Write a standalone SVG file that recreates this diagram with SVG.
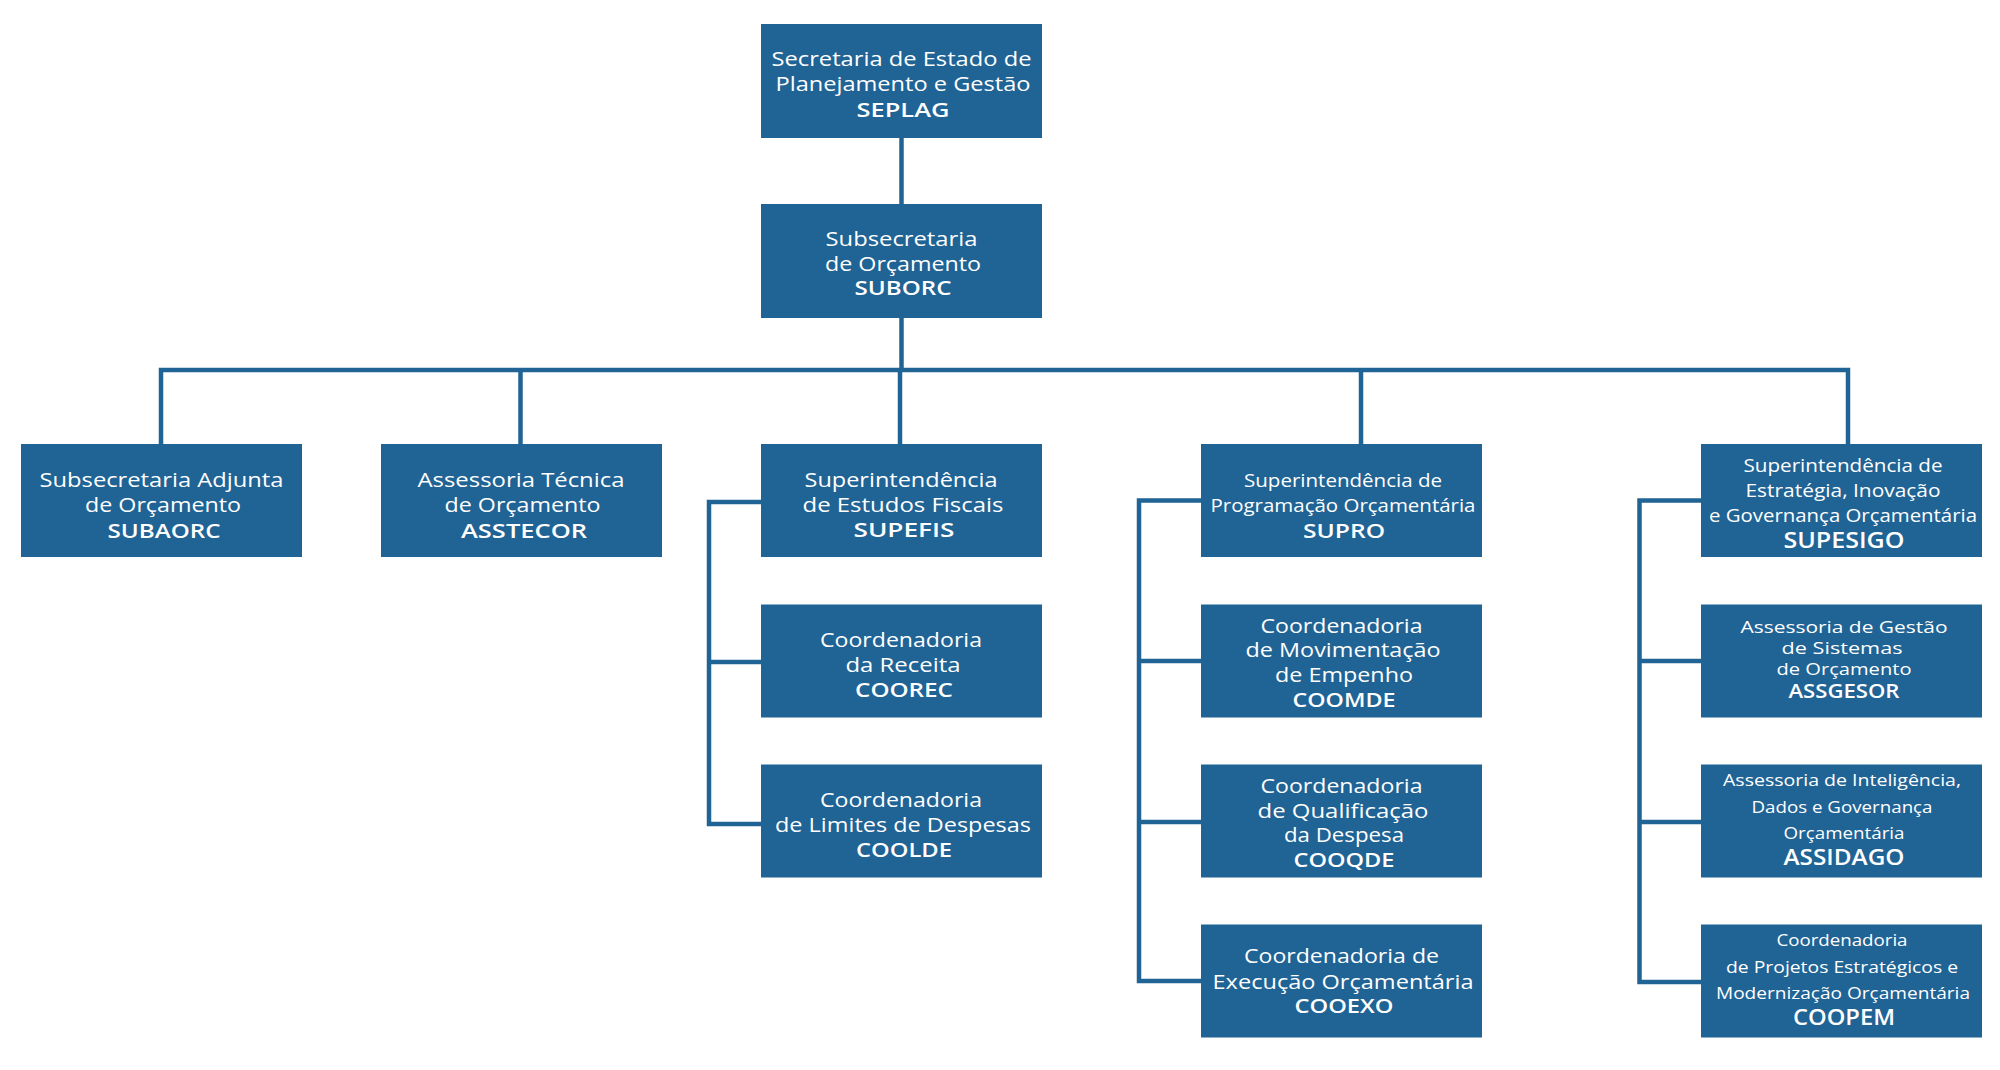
<svg xmlns="http://www.w3.org/2000/svg" width="2000" height="1070" viewBox="0 0 2000 1070">
<style>
.box{fill:#206395}
.c{stroke:#206395;stroke-width:4.5;fill:none;stroke-linejoin:miter;stroke-linecap:butt}
text{font-family:"Open Sans","Liberation Sans",sans-serif;fill:#ffffff;text-anchor:middle}
.r{font-weight:400}
.b{font-weight:600}
.f20{font-size:20px}
.f19{font-size:19px}
.f18{font-size:18px}
.f17{font-size:17px}
.f16{font-size:16px}
.b20{font-size:20.5px}
.b21{font-size:21px}
</style>
<rect width="2000" height="1070" fill="#ffffff"/>
<g id="connectors">
<path class="c" d="M901.5 138 V204"/>
<path class="c" d="M901.5 317 V370"/>
<path class="c" d="M161 444 V370 H1848 V444"/>
<path class="c" d="M520.5 370 V444"/>
<path class="c" d="M900 370 V444"/>
<path class="c" d="M1361 370 V444"/>
<path class="c" d="M761 502 H709 V824 H761"/>
<path class="c" d="M709 662 H761"/>
<path class="c" d="M1201 500.5 H1139 V981 H1201"/>
<path class="c" d="M1139 661 H1201"/>
<path class="c" d="M1139 822 H1201"/>
<path class="c" d="M1701 500.5 H1639.5 V982 H1701"/>
<path class="c" d="M1639.5 661 H1701"/>
<path class="c" d="M1639.5 822 H1701"/>
</g>
<g id="SEPLAG">
<rect class="box" x="761" y="24" width="281" height="114"/>
<text class="r f20" x="901.5" y="65.7" textLength="260" lengthAdjust="spacingAndGlyphs">Secretaria de Estado de</text>
<text class="r f20" x="903" y="91" textLength="255" lengthAdjust="spacingAndGlyphs">Planejamento e Gestão</text>
<text class="b b20" x="903" y="116.7" textLength="93" lengthAdjust="spacingAndGlyphs">SEPLAG</text>
</g>
<g id="SUBORC">
<rect class="box" x="761" y="204" width="281" height="114"/>
<text class="r f20" x="901.5" y="246" textLength="152" lengthAdjust="spacingAndGlyphs">Subsecretaria</text>
<text class="r f20" x="903" y="270.7" textLength="156" lengthAdjust="spacingAndGlyphs">de Orçamento</text>
<text class="b b20" x="903" y="295" textLength="97" lengthAdjust="spacingAndGlyphs">SUBORC</text>
</g>
<g id="SUBAORC">
<rect class="box" x="21" y="444" width="281" height="113"/>
<text class="r f20" x="161.5" y="487" textLength="244" lengthAdjust="spacingAndGlyphs">Subsecretaria Adjunta</text>
<text class="r f20" x="163" y="512" textLength="156" lengthAdjust="spacingAndGlyphs">de Orçamento</text>
<text class="b b20" x="164" y="537.5" textLength="113" lengthAdjust="spacingAndGlyphs">SUBAORC</text>
</g>
<g id="ASSTECOR">
<rect class="box" x="381" y="444" width="281" height="113"/>
<text class="r f20" x="521" y="487" textLength="207" lengthAdjust="spacingAndGlyphs">Assessoria Técnica</text>
<text class="r f20" x="522.5" y="512" textLength="156" lengthAdjust="spacingAndGlyphs">de Orçamento</text>
<text class="b b20" x="524" y="537.5" textLength="126" lengthAdjust="spacingAndGlyphs">ASSTECOR</text>
</g>
<g id="SUPEFIS">
<rect class="box" x="761" y="444" width="281" height="113"/>
<text class="r f20" x="901" y="486.7" textLength="193" lengthAdjust="spacingAndGlyphs">Superintendência</text>
<text class="r f20" x="903" y="511.7" textLength="201" lengthAdjust="spacingAndGlyphs">de Estudos Fiscais</text>
<text class="b b20" x="904" y="536.7" textLength="101" lengthAdjust="spacingAndGlyphs">SUPEFIS</text>
</g>
<g id="COOREC">
<rect class="box" x="761" y="604.5" width="281" height="113"/>
<text class="r f20" x="901" y="646.7" textLength="162" lengthAdjust="spacingAndGlyphs">Coordenadoria</text>
<text class="r f20" x="903" y="671.7" textLength="115" lengthAdjust="spacingAndGlyphs">da Receita</text>
<text class="b b20" x="904" y="696.7" textLength="98" lengthAdjust="spacingAndGlyphs">COOREC</text>
</g>
<g id="COOLDE">
<rect class="box" x="761" y="764.5" width="281" height="113"/>
<text class="r f20" x="901" y="806.7" textLength="162" lengthAdjust="spacingAndGlyphs">Coordenadoria</text>
<text class="r f20" x="903" y="831.7" textLength="256" lengthAdjust="spacingAndGlyphs">de Limites de Despesas</text>
<text class="b b20" x="904" y="856.7" textLength="96" lengthAdjust="spacingAndGlyphs">COOLDE</text>
</g>
<g id="SUPRO">
<rect class="box" x="1201" y="444" width="281" height="113"/>
<text class="r f18" x="1343" y="486.7" textLength="198" lengthAdjust="spacingAndGlyphs">Superintendência de</text>
<text class="r f18" x="1343" y="512.3" textLength="265" lengthAdjust="spacingAndGlyphs">Programação Orçamentária</text>
<text class="b b20" x="1344" y="538.3" textLength="82" lengthAdjust="spacingAndGlyphs">SUPRO</text>
</g>
<g id="COOMDE">
<rect class="box" x="1201" y="604.5" width="281" height="113"/>
<text class="r f20" x="1341.5" y="632.7" textLength="162" lengthAdjust="spacingAndGlyphs">Coordenadoria</text>
<text class="r f20" x="1343" y="657.3" textLength="195" lengthAdjust="spacingAndGlyphs">de Movimentação</text>
<text class="r f20" x="1344" y="682" textLength="138" lengthAdjust="spacingAndGlyphs">de Empenho</text>
<text class="b b20" x="1344" y="707.3" textLength="103" lengthAdjust="spacingAndGlyphs">COOMDE</text>
</g>
<g id="COOQDE">
<rect class="box" x="1201" y="764.5" width="281" height="113"/>
<text class="r f20" x="1341.5" y="793.3" textLength="162" lengthAdjust="spacingAndGlyphs">Coordenadoria</text>
<text class="r f20" x="1343" y="817.7" textLength="171" lengthAdjust="spacingAndGlyphs">de Qualificação</text>
<text class="r f20" x="1344" y="842.3" textLength="120" lengthAdjust="spacingAndGlyphs">da Despesa</text>
<text class="b b20" x="1344" y="867.3" textLength="101" lengthAdjust="spacingAndGlyphs">COOQDE</text>
</g>
<g id="COOEXO">
<rect class="box" x="1201" y="924.5" width="281" height="113"/>
<text class="r f20" x="1341.5" y="963.3" textLength="195" lengthAdjust="spacingAndGlyphs">Coordenadoria de</text>
<text class="r f20" x="1343" y="989" textLength="261" lengthAdjust="spacingAndGlyphs">Execução Orçamentária</text>
<text class="b b20" x="1344" y="1013.3" textLength="99" lengthAdjust="spacingAndGlyphs">COOEXO</text>
</g>
<g id="SUPESIGO">
<rect class="box" x="1701" y="444" width="281" height="113"/>
<text class="r f18" x="1843" y="471.7" textLength="199" lengthAdjust="spacingAndGlyphs">Superintendência de</text>
<text class="r f18" x="1843" y="496.7" textLength="195" lengthAdjust="spacingAndGlyphs">Estratégia, Inovação</text>
<text class="r f18" x="1843" y="522.3" textLength="268" lengthAdjust="spacingAndGlyphs">e Governança Orçamentária</text>
<text class="b b21" x="1844" y="548.3" textLength="121" lengthAdjust="spacingAndGlyphs">SUPESIGO</text>
</g>
<g id="ASSGESOR">
<rect class="box" x="1701" y="604.5" width="281" height="113"/>
<text class="r f17" x="1844" y="632.7" textLength="207" lengthAdjust="spacingAndGlyphs">Assessoria de Gestão</text>
<text class="r f17" x="1842" y="653.7" textLength="121" lengthAdjust="spacingAndGlyphs">de Sistemas</text>
<text class="r f17" x="1844" y="675.3" textLength="135" lengthAdjust="spacingAndGlyphs">de Orçamento</text>
<text class="b f19" x="1844" y="697.7" textLength="111" lengthAdjust="spacingAndGlyphs">ASSGESOR</text>
</g>
<g id="ASSIDAGO">
<rect class="box" x="1701" y="764.5" width="281" height="113"/>
<text class="r f16" x="1842" y="786" textLength="238" lengthAdjust="spacingAndGlyphs">Assessoria de Inteligência,</text>
<text class="r f16" x="1842" y="813.3" textLength="181" lengthAdjust="spacingAndGlyphs">Dados e Governança</text>
<text class="r f16" x="1844" y="839.3" textLength="121" lengthAdjust="spacingAndGlyphs">Orçamentária</text>
<text class="b b21" x="1844" y="865" textLength="121" lengthAdjust="spacingAndGlyphs">ASSIDAGO</text>
</g>
<g id="COOPEM">
<rect class="box" x="1701" y="924.5" width="281" height="113"/>
<text class="r f16" x="1842" y="946" textLength="131" lengthAdjust="spacingAndGlyphs">Coordenadoria</text>
<text class="r f16" x="1842" y="972.7" textLength="232" lengthAdjust="spacingAndGlyphs">de Projetos Estratégicos e</text>
<text class="r f16" x="1843" y="999.3" textLength="254" lengthAdjust="spacingAndGlyphs">Modernização Orçamentária</text>
<text class="b b21" x="1844" y="1025" textLength="102" lengthAdjust="spacingAndGlyphs">COOPEM</text>
</g>
</svg>
